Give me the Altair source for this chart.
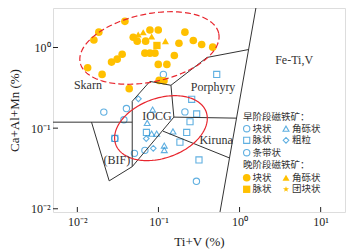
import altair as alt
import pandas as pd
import numpy as np

# ---------------- data (Ti+V %, Ca+Al+Mn %) ----------------
# Late-stage magnetite (filled yellow)
late_circle_x = [0.0386, 0.0184, 0.0160, 0.0134, 0.0202, 0.0264, 0.0310, 0.0357, 0.0436,
                 0.0489, 0.0547, 0.0695, 0.0785, 0.0995, 0.0681, 0.0785, 0.0905, 0.0995,
                 0.127, 0.157, 0.102, 0.117, 0.179, 0.212, 0.269, 0.341, 0.467]
late_circle_y = [2.11, 1.55, 1.24, 0.561, 0.464, 0.659, 0.717, 0.826, 0.309,
                 1.34, 1.20, 1.20, 1.65, 1.65, 0.851, 0.851, 0.851, 0.617,
                 0.617, 0.797, 0.391, 0.386, 1.13, 1.55, 1.22, 1.09, 1.01]
late_tri_x = [0.0563, 0.0649, 0.0824, 0.122]
late_tri_y = [1.45, 1.55, 1.37, 1.20]
late_sq_x = [0.0958]
late_sq_y = [1.06]

# Early-stage magnetite (hollow blue)
early_circle_x = [0.115, 0.0403, 0.0212, 0.0375, 0.212, 0.0506, 0.0681, 0.294, 0.0290]
early_circle_y = [0.464, 0.175, 0.158, 0.127, 0.159, 0.0487, 0.0530, 0.0219, 0.0746]
early_sq_x = [0.523, 0.257, 0.296, 0.245, 0.223, 0.184, 0.316, 0.0711, 0.0290]
early_sq_y = [0.464, 0.228, 0.150, 0.120, 0.0885, 0.0671, 0.0403, 0.0885, 0.0746]
early_tri_x = [0.0848, 0.0727, 0.0824, 0.0951, 0.151, 0.118, 0.118]
early_tri_y = [0.170, 0.116, 0.0855, 0.0855, 0.0910, 0.0608, 0.0535]
early_dia_x = [0.0566, 0.0707, 0.0863]
early_dia_y = [0.231, 0.0742, 0.0562]

# Field boundaries (data units), one polyline per segment
seg_x = [
    [0.005, 0.0475],
    [0.0475, 0.0475],
    [0.0475, 0.0785, 0.1426, 0.397, 1.296],
    [0.1426, 0.155, 0.918],
    [0.155, 0.0475],
    [0.1138, 0.751],
    [0.01496, 0.0247, 0.0475],
    [1.59, 0.574],
]
seg_y = [
    [0.1186, 0.1186],
    [0.2153, 0.0333],
    [0.2153, 0.380, 0.340, 0.753, 0.944],
    [0.340, 0.137, 0.133],
    [0.137, 0.0333],
    [0.0918, 0.0427],
    [0.1186, 0.0222, 0.0333],
    [3.09, 0.00912],
]

field_names = ["Skarn", "Porphyry", "Fe-Ti,V", "IOCG", "Kiruna", "(BIF)"]
field_x = [0.0135, 0.471, 4.71, 0.0958, 0.513, 0.0307]
field_y = [0.340, 0.321, 0.691, 0.141, 0.0711, 0.0403]

x_ticks = [0.01, 0.1, 1, 10]
y_ticks = [0.01, 0.1, 1]

# ---------------- layout ----------------
W, H = 292, 204
XMIN, XMAX = -2.3, 1.3
YMIN, YMAX = -2.04, 0.49
BLUE = "#1E8FD5"
YELLOW = "#FFC000"
RED = "#E8262E"
INK = "#222222"
SERIF = "Liberation Serif"
CJK = "Noto Sans CJK SC"
STAR = ("M0,-1L0.235,-0.324L0.951,-0.309L0.38,0.124L0.588,0.809L0,0.4"
        "L-0.588,0.809L-0.38,0.124L-0.951,-0.309L-0.235,-0.324Z")

xs = alt.Scale(type="log", domain=[10 ** XMIN, 10 ** XMAX], nice=False)
ys = alt.Scale(type="log", domain=[10 ** YMIN, 10 ** YMAX], nice=False)


def px2x(p):
    return 10 ** (XMIN + p * (XMAX - XMIN) / W)


def py2y(p):
    return 10 ** (YMAX - p * (YMAX - YMIN) / H)


def pts(xv, yv, shape):
    return pd.DataFrame({"x": xv, "y": yv, "shape": shape})


early = pd.concat([
    pts(early_circle_x, early_circle_y, "circle"),
    pts(early_sq_x, early_sq_y, "square"),
    pts(early_tri_x, early_tri_y, "triangle-up"),
    pts(early_dia_x, early_dia_y, "diamond"),
])
late = pd.concat([
    pts(late_circle_x, late_circle_y, "circle"),
    pts(late_tri_x, late_tri_y, "triangle-up"),
    pts(late_sq_x, late_sq_y, "square"),
])

lab_expr = ("round(log(datum.value)/LN10) == -2 ? '10⁻²' : "
            "round(log(datum.value)/LN10) == -1 ? '10⁻¹' : "
            "round(log(datum.value)/LN10) == 0 ? '10⁰' : '10¹'")

x_axis = alt.Axis(values=x_ticks, labelExpr=lab_expr, ticks=False, domain=False, grid=False,
                  labelFont=SERIF, labelFontSize=12, labelColor=INK, labelPadding=4,
                  title="Ti+V (%)", titleFont=SERIF, titleFontSize=13, titleFontWeight="normal",
                  titleColor=INK, titlePadding=8)
y_axis = alt.Axis(values=y_ticks, labelExpr=lab_expr, ticks=False, domain=False, grid=False,
                  labelFont=SERIF, labelFontSize=12, labelColor=INK, labelPadding=3,
                  title="Ca+Al+Mn (%)", titleFont=SERIF, titleFontSize=13, titleFontWeight="normal",
                  titleColor=INK, titlePadding=9)


def X(f):
    return alt.X(f, scale=xs, axis=x_axis)


def Y(f):
    return alt.Y(f, scale=ys, axis=y_axis)


size_map = alt.Scale(domain=["circle", "square", "triangle-up", "diamond", STAR],
                     range=[40, 30, 36, 38, 60])
late_size = alt.Scale(domain=["circle", "square", "triangle-up", "diamond", STAR],
                      range=[58, 40, 50, 40, 70])

early_layer = alt.Chart(early).mark_point(filled=False, color=BLUE, strokeWidth=1.1).encode(
    x=X("x:Q"), y=Y("y:Q"),
    shape=alt.Shape("shape:N", scale=None),
    size=alt.Size("shape:N", scale=size_map, legend=None),
)
late_layer = alt.Chart(late).mark_point(filled=True, color=YELLOW, opacity=1).encode(
    x=X("x:Q"), y=Y("y:Q"),
    shape=alt.Shape("shape:N", scale=None),
    size=alt.Size("shape:N", scale=late_size, legend=None),
)

# boundaries as straight segments
rows = []
for sx, sy in zip(seg_x, seg_y):
    for i in range(len(sx) - 1):
        rows.append({"x": sx[i], "y": sy[i], "x2": sx[i + 1], "y2": sy[i + 1]})
bound = pd.DataFrame(rows)
bound_layer = alt.Chart(bound).mark_rule(color="#333333", strokeWidth=1, clip=True).encode(
    x=X("x:Q"), y=Y("y:Q"), x2="x2:Q", y2="y2:Q",
)


def ellipse(cx, cy, a, b, deg, n=181):
    t = np.linspace(0, 2 * np.pi, n)
    th = np.deg2rad(deg)
    lx = cx + a * np.cos(t) * np.cos(th) - b * np.sin(t) * np.sin(th)
    ly = cy + a * np.cos(t) * np.sin(th) + b * np.sin(t) * np.cos(th)
    return pd.DataFrame({"x": 10 ** lx, "y": 10 ** ly, "i": np.arange(n)})


ell_late = ellipse(-1.111, -0.006, 0.873, 0.421, 12)
ell_early = ellipse(-0.969, -1.0, 0.593, 0.370, 20)
ell_late_layer = alt.Chart(ell_late).mark_line(color=RED, strokeWidth=1.2, strokeDash=[6, 3]).encode(
    x=X("x:Q"), y=Y("y:Q"), order="i:Q")
ell_early_layer = alt.Chart(ell_early).mark_line(color=RED, strokeWidth=1.2).encode(
    x=X("x:Q"), y=Y("y:Q"), order="i:Q")

fields = pd.DataFrame({"name": field_names, "x": field_x, "y": field_y})
field_layer = alt.Chart(fields).mark_text(font=SERIF, fontSize=12, color="#333333",
                                          baseline="middle", align="center").encode(
    x=X("x:Q"), y=Y("y:Q"), text="name:N")

# inward ticks
xt = alt.Chart(pd.DataFrame({"v": x_ticks})).mark_rule(color=INK, strokeWidth=1).encode(
    x=X("v:Q"), y=alt.value(H), y2=alt.value(H - 5))
yt = alt.Chart(pd.DataFrame({"v": y_ticks})).mark_rule(color=INK, strokeWidth=1).encode(
    y=Y("v:Q"), x=alt.value(0), x2=alt.value(5))

# manual legend (plot-pixel anchors converted into data space)
c1s, c1t, c2s, c2t, hx = 193.7, 199.5, 233, 239, 190
r = [109, 120.7, 132.3, 144.7, 157.3, 169.7, 181.3]
leg_text = pd.DataFrame({
    "t": ["早阶段磁铁矿：", "块状", "角砾状", "脉状", "粗粒", "条带状",
          "晚阶段磁铁矿：", "块状", "角砾状", "脉状", "团块状"],
    "px": [hx, c1t, c2t, c1t, c2t, c1t, hx, c1t, c2t, c1t, c2t],
    "py": [r[0], r[1], r[1], r[2], r[2], r[3], r[4], r[5], r[5], r[6], r[6]],
})
leg_text["x"] = leg_text["px"].map(px2x)
leg_text["y"] = leg_text["py"].map(py2y)
leg_text_layer = alt.Chart(leg_text).mark_text(font=CJK, fontSize=9.5, color="#333333",
                                               align="left", baseline="middle").encode(
    x=X("x:Q"), y=Y("y:Q"), text="t:N")

leg_e = pd.DataFrame({"shape": ["circle", "triangle-up", "square", "diamond", "circle"],
                      "px": [c1s, c2s, c1s, c2s, c1s],
                      "py": [r[1], r[1], r[2], r[2], r[3]]})
leg_l = pd.DataFrame({"shape": ["circle", "triangle-up", "square", STAR],
                      "px": [c1s, c2s, c1s, c2s],
                      "py": [r[5], r[5], r[6], r[6]]})
for d in (leg_e, leg_l):
    d["x"] = d["px"].map(px2x)
    d["y"] = d["py"].map(py2y)
leg_e_layer = alt.Chart(leg_e).mark_point(filled=False, color=BLUE, strokeWidth=1.1).encode(
    x=X("x:Q"), y=Y("y:Q"),
    shape=alt.Shape("shape:N", scale=None),
    size=alt.Size("shape:N", scale=size_map, legend=None))
leg_l_layer = alt.Chart(leg_l).mark_point(filled=True, color=YELLOW, opacity=1).encode(
    x=X("x:Q"), y=Y("y:Q"),
    shape=alt.Shape("shape:N", scale=None),
    size=alt.Size("shape:N", scale=late_size, legend=None))

chart = alt.layer(
    early_layer, late_layer, bound_layer, ell_late_layer, ell_early_layer, field_layer,
    xt, yt, leg_text_layer, leg_e_layer, leg_l_layer,
).resolve_scale(size="independent").properties(
    width=W, height=H,
    autosize="none",
    padding={"left": 45, "top": 0, "right": 7, "bottom": 40},
).configure_view(stroke=INK, strokeWidth=1).configure(background="white")

chart.save("out.html", embed_options={"renderer": "svg", "actions": False})
